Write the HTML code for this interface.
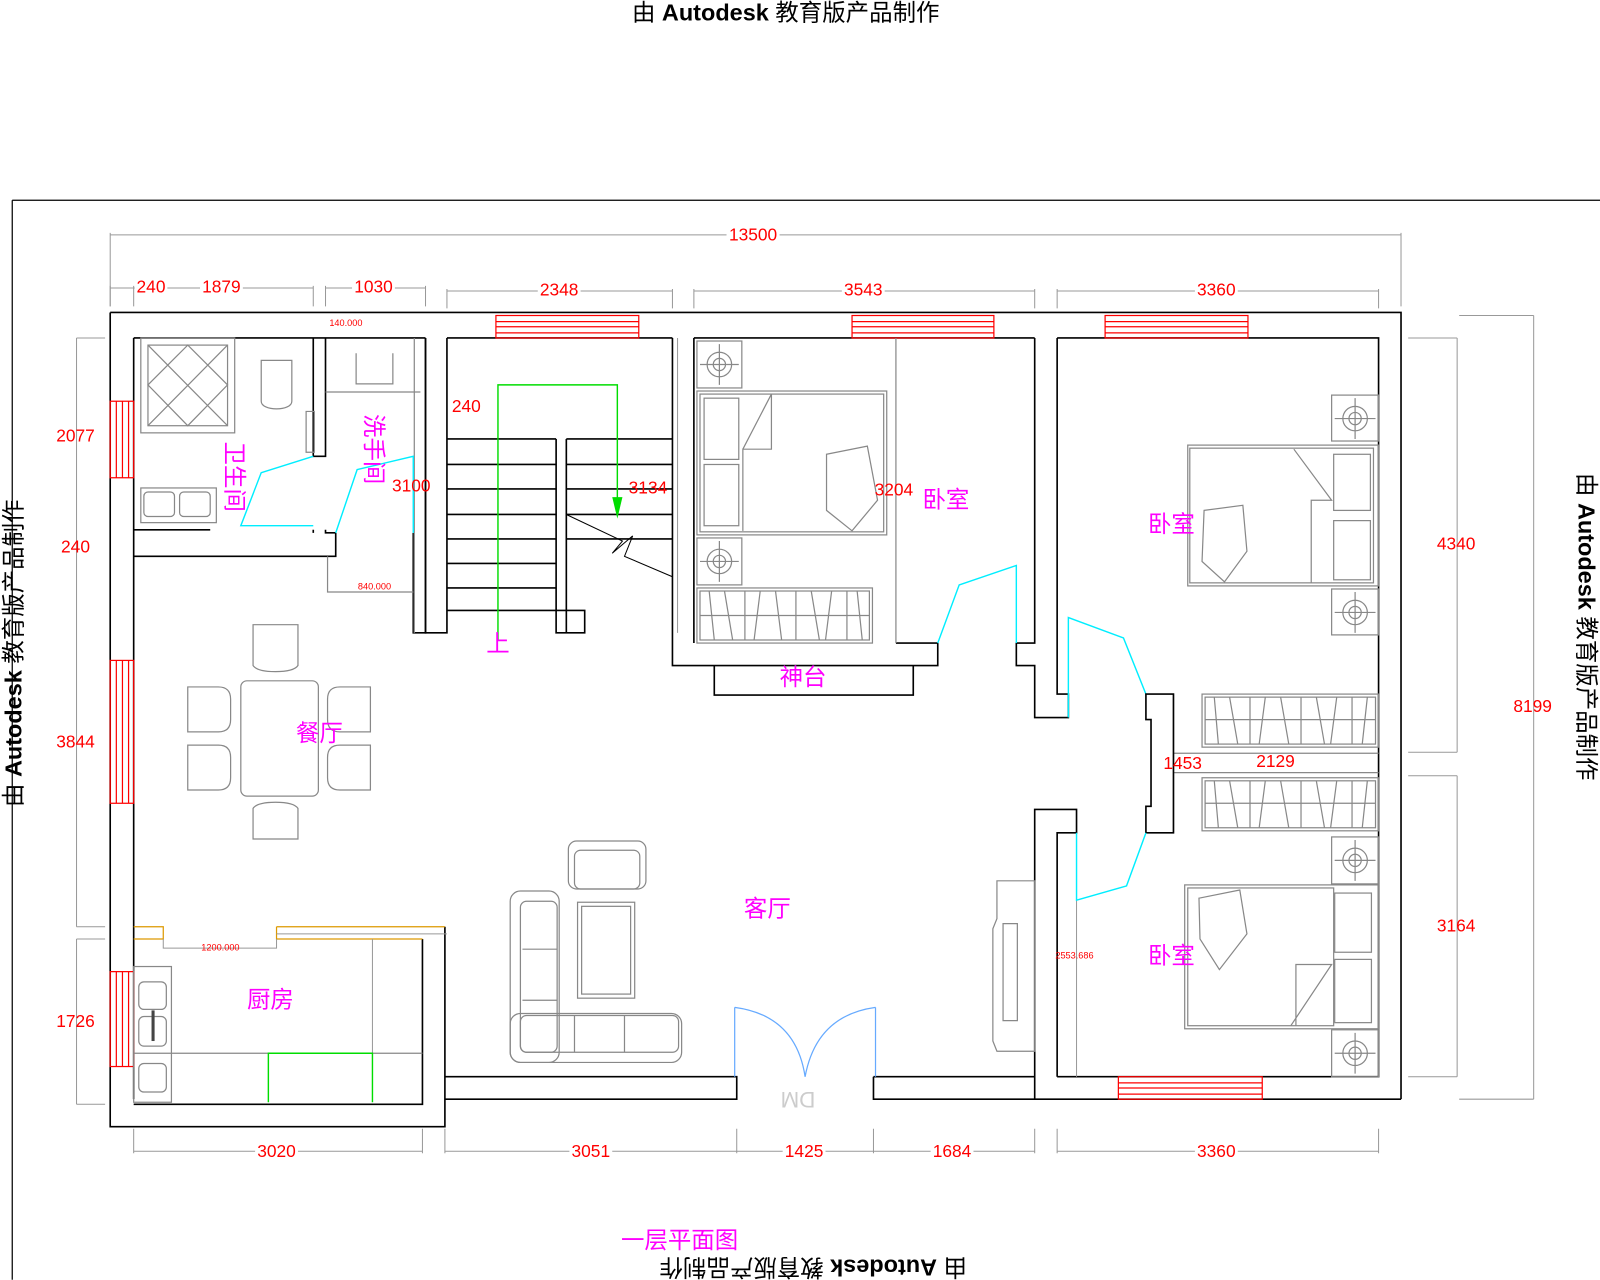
<!DOCTYPE html>
<html><head><meta charset="utf-8"><style>
html,body{margin:0;padding:0;background:#fff;}
svg{display:block;}
text{font-family:"Liberation Sans","Noto Sans CJK SC",sans-serif;}
.r{fill:#f00;font-size:17px;text-anchor:middle;dominant-baseline:middle;}
.rs{fill:#f00;font-size:9px;text-anchor:middle;dominant-baseline:middle;}
.m{fill:#f0f;font-size:23px;text-anchor:middle;dominant-baseline:middle;}
.d{stroke:#999;stroke-width:1;fill:none;}
.w{stroke:#000;stroke-width:1.6;fill:none;}
.f{stroke:#888;stroke-width:1.2;fill:none;}
.win{stroke:#f00;stroke-width:1.2;fill:none;}
.c{stroke:#0ef;stroke-width:1.4;fill:none;}
</style></head><body>
<svg width="1600" height="1280" viewBox="0 0 1568 1254" xmlns="http://www.w3.org/2000/svg">
<rect width="1568" height="1254" fill="#fff"/>
<!-- watermark texts -->
<text x="770" y="14" font-size="23" text-anchor="middle" dominant-baseline="middle">由 <tspan font-weight="bold">Autodesk</tspan> 教育版产品制作</text>
<text transform="translate(15,640) rotate(-90)" font-size="23" text-anchor="middle" dominant-baseline="middle">由 <tspan font-weight="bold">Autodesk</tspan> 教育版产品制作</text>
<text transform="translate(1553,614) rotate(90)" font-size="23" text-anchor="middle" dominant-baseline="middle">由 <tspan font-weight="bold">Autodesk</tspan> 教育版产品制作</text>
<text transform="translate(797,1240) rotate(180)" font-size="23" text-anchor="middle" dominant-baseline="middle">由 <tspan font-weight="bold">Autodesk</tspan> 教育版产品制作</text>
<text class="m" x="666" y="1217" font-size="25">一层平面图</text>
<!-- frame -->
<path d="M12 196H1568M12 196V1254" stroke="#000" stroke-width="1.2" fill="none"/>

<!-- dimension lines -->
<g class="d">
<path d="M108 230H1373M108 228V300M1373 228V300"/>
<path d="M108 282H307M108 280V300M131 280V300M307 280V300M319 282H417M319 280V300M417 280V300"/>
<path d="M438 285H659M438 283V302M659 283V302M680 285H1014M680 283V302M1014 283V302M1036 285H1351M1036 283V302M1351 283V302"/>
<path d="M131 1128H414M131 1106V1130M414 1106V1130M436 1128H1014M436 1106V1130M722 1106V1130M856 1106V1130M1014 1106V1130M1036 1128H1351M1036 1106V1130M1351 1106V1130"/>
<path d="M75 331V908M75 331H103M75 908H103M75 920V1082M75 920H103M75 1082H103"/>
<path d="M1428 331V737M1380 331H1428M1380 737H1428M1428 760V1055M1380 760H1428M1380 1055H1428"/>
<path d="M1503 309V1077M1430 309H1503M1430 1077H1503"/>
</g>
<g>
<rect x="712" y="221" width="52" height="18" fill="#fff"/><text class="r" x="738" y="231">13500</text>
<rect x="132" y="273" width="32" height="18" fill="#fff"/><text class="r" x="148" y="282">240</text>
<rect x="196" y="273" width="42" height="18" fill="#fff"/><text class="r" x="217" y="282">1879</text>
<rect x="345" y="273" width="42" height="18" fill="#fff"/><text class="r" x="366" y="282">1030</text>
<rect x="527" y="276" width="42" height="18" fill="#fff"/><text class="r" x="548" y="285">2348</text>
<rect x="825" y="276" width="42" height="18" fill="#fff"/><text class="r" x="846" y="285">3543</text>
<rect x="1171" y="276" width="42" height="18" fill="#fff"/><text class="r" x="1192" y="285">3360</text>
<rect x="250" y="1119" width="42" height="18" fill="#fff"/><text class="r" x="271" y="1129">3020</text>
<rect x="558" y="1119" width="42" height="18" fill="#fff"/><text class="r" x="579" y="1129">3051</text>
<rect x="767" y="1119" width="42" height="18" fill="#fff"/><text class="r" x="788" y="1129">1425</text>
<rect x="912" y="1119" width="42" height="18" fill="#fff"/><text class="r" x="933" y="1129">1684</text>
<rect x="1171" y="1119" width="42" height="18" fill="#fff"/><text class="r" x="1192" y="1129">3360</text>
<text class="r" x="74" y="428">2077</text>
<text class="r" x="74" y="537">240</text>
<text class="r" x="74" y="728">3844</text>
<text class="r" x="74" y="1002">1726</text>
<text class="r" x="1427" y="534">4340</text>
<text class="r" x="1427" y="908">3164</text>
<text class="r" x="1502" y="693">8199</text>
</g>

<!-- outer walls -->
<g class="w">
<path d="M108 306H1373V1077M108 306V1104H436V908"/>
<path d="M131 331H417M438 331H659M680 331H1014M1036 331H1351V1055H1036"/>
<path d="M131 331V1077"/>
<path d="M436 1055H722V1077H436M856 1055H1014M856 1055V1077H1373"/>
<path d="M414 920V1082H131"/>
</g>
<!-- windows -->
<g class="win">
<rect x="486" y="309" width="140" height="22"/><path d="M486 315H626M486 320H626M486 326H626"/>
<rect x="835" y="309" width="139" height="22"/><path d="M835 315H974M835 320H974M835 326H974"/>
<rect x="1083" y="309" width="140" height="22"/><path d="M1083 315H1223M1083 320H1223M1083 326H1223"/>
<rect x="1096" y="1055" width="141" height="22"/><path d="M1096 1061H1237M1096 1066H1237M1096 1072H1237"/>
<rect x="108" y="393" width="23" height="75"/><path d="M114 393V468M120 393V468M126 393V468"/>
<rect x="108" y="647" width="23" height="140"/><path d="M114 647V787M120 647V787M126 647V787"/>
<rect x="108" y="952" width="23" height="93"/><path d="M114 952V1045M120 952V1045M126 952V1045"/>
</g>

<!-- bathroom area -->
<g class="w">
<path d="M307 331V447H319V331"/>
<path d="M131 545H329V522H319V519"/>
<path d="M131 519H206M307 519V522"/>
<path d="M405 522V620H417V331"/>
<path d="M417 331V620H438V331"/>
</g>
<g class="f">
<rect x="138" y="331" width="92" height="93"/>
<rect x="145" y="338" width="78" height="79"/>
<path d="M145 338L223 417M145 417L223 338M145 377L184 338L223 377L184 417Z"/>
<path d="M256 353h30v40c0 10-30 10-30 0Z"/>
<path d="M349 346v30h36v-30M319 384H412"/>
<rect x="138" y="478" width="74" height="34"/>
<rect x="141" y="482" width="30" height="24" rx="4"/><rect x="176" y="482" width="30" height="24" rx="4"/>
<path d="M300 403h8v40h-8zM321 545V580H405"/>
<path d="M406 331V620"/>
</g>
<text class="rs" x="339" y="317">140.000</text>
<text class="rs" x="367" y="575">840.000</text>
<path class="c" d="M307 447L256 463L236 515H307M329 522L350 460L405 447V522"/>
<text class="m" font-size="22" transform="translate(228,467) rotate(90)" x="0" y="0">卫生间</text>
<text class="m" font-size="22" transform="translate(365,440) rotate(90)" x="0" y="0">洗手间</text>
<text class="r" x="403" y="477">3100</text>
<text class="r" x="457" y="399">240</text>

<!-- stairs -->
<g class="w">
<path d="M438 430H545M438 455H545M438 479H545M438 504H545M438 528H545M438 552H545M438 576H545M438 598H573V620H545V430"/>
<path d="M555 430H659M555 455H659M555 479H659M555 504H659M555 528H659M555 430V620"/>
</g>
<path d="M555 504L610 530L600 542L620 525L612 545L659 565" stroke="#000" fill="none"/>
<path d="M488 628V377H605V505" stroke="#0d0" stroke-width="1.4" fill="none"/>
<path d="M600 487H610L605 508Z" fill="#0d0"/>
<text class="m" x="488" y="632">上</text>
<text class="r" x="635" y="479">3134</text>
<path class="d" d="M664 331V620"/>

<!-- bedroom 1 -->
<g class="w">
<path d="M659 331V652H919V630H878M680 331V630"/>
<path d="M700 652V681H895V652"/>
<path d="M1014 331V630H996V652H1014V703H1047V680H1036V331"/>
</g>
<g class="f">
<rect x="683" y="334" width="44" height="46"/><circle cx="705" cy="357" r="12"/><circle cx="705" cy="357" r="6"/><path d="M686 357H724M705 337V377"/>
<rect x="683" y="527" width="44" height="46"/><circle cx="705" cy="550" r="12"/><circle cx="705" cy="550" r="6"/><path d="M686 550H724M705 530V570"/>
<rect x="683" y="383" width="186" height="141"/><rect x="686" y="386" width="180" height="135"/>
<rect x="690" y="390" width="34" height="60"/><rect x="690" y="455" width="34" height="60"/>
<path d="M728 520V440H756V386L728 440M810 445L850 437L860 490L835 520L810 500Z"/>
<rect x="683" y="576" width="172" height="54"/><rect x="686" y="579" width="166" height="48"/>
<path d="M686 603H852M695 579l5 48M710 579l8 48M730 579v48M745 579l-6 48M760 579l6 48M780 579v48M795 579l8 48M815 579l-6 48M830 579v48M840 579l5 48"/>
<path d="M878 331V630"/>
</g>
<path class="c" d="M919 630L940 573L996 554V630"/>
<text class="r" x="876" y="481">3204</text>
<text class="m" x="927" y="491">卧室</text>
<text class="m" x="787" y="665">神台</text>

<!-- bedroom 2 (top right) -->
<g class="f">
<rect x="1305" y="387" width="46" height="45"/><circle cx="1328" cy="410" r="12"/><circle cx="1328" cy="410" r="6"/><path d="M1308 410H1348M1328 390V430"/>
<rect x="1305" y="577" width="46" height="45"/><circle cx="1328" cy="600" r="12"/><circle cx="1328" cy="600" r="6"/><path d="M1308 600H1348M1328 580V620"/>
<rect x="1164" y="436" width="187" height="138"/><rect x="1166" y="439" width="180" height="132"/>
<rect x="1307" y="445" width="36" height="55"/><rect x="1307" y="510" width="36" height="58"/>
<path d="M1268 440L1305 490H1285V571M1180 500L1218 495L1222 540L1200 570L1178 550Z"/>
<rect x="1178" y="680" width="173" height="52"/><rect x="1181" y="683" width="167" height="46"/>
<path d="M1181 705H1348M1190 683l4 46M1205 683l8 46M1225 683v46M1240 683l-6 46M1255 683l8 46M1275 683v46M1290 683l8 46M1310 683l-6 46M1325 683v46M1340 683l-5 46"/>
<rect x="1178" y="762" width="173" height="52"/><rect x="1181" y="765" width="167" height="46"/>
<path d="M1181 787H1348M1190 765l4 46M1205 765l8 46M1225 765v46M1240 765l-6 46M1255 765l8 46M1275 765v46M1290 765l8 46M1310 765l-6 46M1325 765v46M1340 765l-5 46"/>
<path d="M1150 680V816M1150 738H1351M1150 757H1351"/>
</g>
<path class="c" d="M1047 703V605L1101 625L1123 680"/>
<text class="m" x="1148" y="515">卧室</text>
<g class="w"><path d="M1123 680H1150V816H1123V790H1128V705H1123Z"/></g>
<text class="r" x="1159" y="749">1453</text>
<text class="r" x="1250" y="747">2129</text>

<!-- bedroom 3 (bottom right) -->
<g class="w"><path d="M1014 1077V793H1055V816H1036V1055"/></g>
<path class="d" d="M1055 816V1055"/>
<path class="c" d="M1055 816V882L1104 868L1123 816"/>
<g class="f">
<rect x="1305" y="820" width="46" height="46"/><circle cx="1328" cy="843" r="12"/><circle cx="1328" cy="843" r="6"/><path d="M1308 843H1348M1328 823V863"/>
<rect x="1305" y="1009" width="46" height="46"/><circle cx="1328" cy="1032" r="12"/><circle cx="1328" cy="1032" r="6"/><path d="M1308 1032H1348M1328 1012V1052"/>
<rect x="1161" y="867" width="190" height="141"/><rect x="1164" y="870" width="143" height="135"/>
<rect x="1308" y="875" width="36" height="58"/><rect x="1308" y="940" width="36" height="62"/>
<path d="M1175 880L1215 872L1222 915L1195 950L1176 920ZM1265 1005L1305 945H1270V1005"/>
</g>
<text class="rs" x="1053" y="937">2553.686</text>
<text class="m" x="1148" y="938">卧室</text>

<!-- living room -->
<g class="f">
<path d="M977 863H1014V1030H977L973 1020V910L977 900Z"/><path d="M983 905H997V1000H983Z"/>
<rect x="500" y="873" width="48" height="168" rx="10"/><rect x="510" y="883" width="36" height="148" rx="6"/>
<path d="M512 930H546M512 980H546"/>
<rect x="500" y="993" width="168" height="48" rx="10"/><rect x="510" y="995" width="155" height="36" rx="6"/>
<path d="M563 995V1031M612 995V1031"/>
<rect x="557" y="824" width="76" height="47" rx="8"/><rect x="563" y="833" width="64" height="38" rx="6"/>
<rect x="566" y="884" width="56" height="94"/><rect x="570" y="888" width="48" height="86"/>
</g>
<path d="M720 987V1055M858 987V1055M720 987Q780 995 789 1055M858 987Q800 995 789 1055" stroke="#6af" fill="none" stroke-width="1.2"/>
<text x="782" y="1076" font-size="22" fill="#ccc" text-anchor="middle" dominant-baseline="middle" transform="rotate(180 782 1076)">DM</text>
<text class="m" x="752" y="892">客厅</text>

<!-- dining -->
<g class="f">
<rect x="236" y="667" width="76" height="113" rx="6"/>
<path d="M248 612h44v40q-4 6-22 6q-18 0-22-6Z"/>
<path d="M248 822h44v-30q-4-6-22-6q-18 0-22 6Z"/>
<path d="M184 673v44h30q12 0 12-12v-20q0-12-12-12Z"/>
<path d="M184 730v44h30q12 0 12-12v-20q0-12-12-12Z"/>
<path d="M363 673v44h-30q-12 0-12-12v-20q0-12 12-12Z"/>
<path d="M363 730v44h-30q-12 0-12-12v-20q0-12 12-12Z"/>
</g>
<text class="m" x="313" y="720" font-size="22">餐厅</text>

<!-- kitchen -->
<path d="M131 908H160V920H131M271 908H436M271 908V920H414" stroke="#d90" fill="none" stroke-width="1.2"/>
<path class="d" d="M160 920V929H271V920M271 915H438M365 920V1032"/>
<text class="rs" x="216" y="929">1200.000</text>
<g class="f">
<rect x="131" y="947" width="37" height="133"/>
<rect x="136" y="962" width="27" height="27" rx="5"/><rect x="136" y="996" width="27" height="29" rx="5"/><rect x="136" y="1042" width="27" height="28" rx="5"/>
<path d="M131 1032H414"/>
</g>
<path d="M150 990V1020" stroke="#444" stroke-width="3"/>
<path d="M263 1080V1032H365V1080" stroke="#0d0" stroke-width="1.4" fill="none"/>
<text class="m" x="265" y="981" font-size="22">厨房</text>
</svg>
</body></html>
